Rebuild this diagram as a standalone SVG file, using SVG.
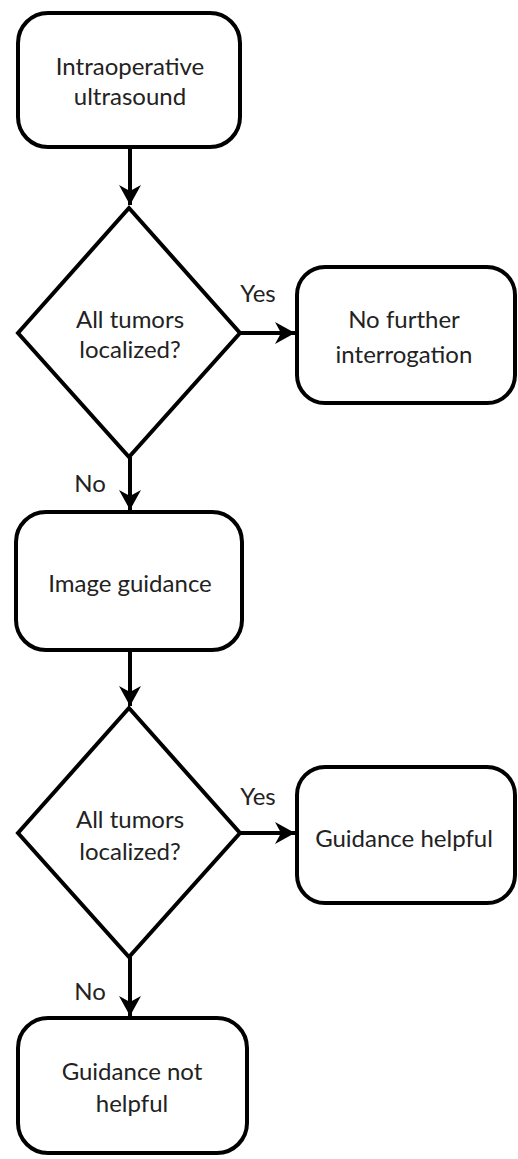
<svg xmlns="http://www.w3.org/2000/svg" width="518" height="1159" viewBox="0 0 518 1159">
<style>
.box{fill:#fff;stroke:#000;stroke-width:4}
.t{font-family:Lato,"Liberation Sans",sans-serif;font-size:24px;fill:#222;text-anchor:middle}
.lbl{font-family:Lato,"Liberation Sans",sans-serif;font-size:24px;fill:#222;text-anchor:middle}
.c{stroke:#000;stroke-width:4;fill:none}
</style>
<defs>
<marker id="ah" markerUnits="userSpaceOnUse" markerWidth="24" markerHeight="24" viewBox="-22 -12 24 24" refX="0" refY="0" orient="auto">
<path d="M0,0 L-20,-11 L-14,0 L-20,11 Z" fill="#000"/>
</marker>
</defs>
<rect width="518" height="1159" fill="#fff"/>
<g id="n1"><rect class="box" x="18" y="13" width="222" height="134" rx="30"/>
<text class="t" x="130" y="75">Intraoperative</text><text class="t" x="130" y="105">ultrasound</text></g>
<g id="d1"><polygon class="box" points="129,208 240,333 129,457 18,333"/>
<text class="t" x="130" y="328">All tumors</text><text class="t" x="130" y="358">localized?</text></g>
<g id="n2"><rect class="box" x="297" y="267" width="218" height="136" rx="28"/>
<text class="t" x="404" y="328">No further</text><text class="t" x="404" y="363">interrogation</text></g>
<g id="n3"><rect class="box" x="16" y="512" width="226" height="138" rx="30"/>
<text class="t" x="130" y="592">Image guidance</text></g>
<g id="d2"><polygon class="box" points="129,708 240,833 129,957 18,833"/>
<text class="t" x="130" y="828">All tumors</text><text class="t" x="130" y="860">localized?</text></g>
<g id="n4"><rect class="box" x="297" y="767" width="218" height="136" rx="28"/>
<text class="t" x="404" y="847">Guidance helpful</text></g>
<g id="n5"><rect class="box" x="18" y="1018" width="229" height="135" rx="30"/>
<text class="t" x="132" y="1080">Guidance not</text><text class="t" x="132" y="1112">helpful</text></g>
<g id="connectors">
<line class="c" x1="130" y1="147" x2="130" y2="205" marker-end="url(#ah)"/>
<line class="c" x1="240" y1="333" x2="295" y2="333" marker-end="url(#ah)"/>
<line class="c" x1="130" y1="457" x2="130" y2="510" marker-end="url(#ah)"/>
<line class="c" x1="130" y1="650" x2="130" y2="706" marker-end="url(#ah)"/>
<line class="c" x1="240" y1="833" x2="295" y2="833" marker-end="url(#ah)"/>
<line class="c" x1="130" y1="957" x2="130" y2="1016" marker-end="url(#ah)"/>
<text class="lbl" x="258" y="302">Yes</text>
<text class="lbl" x="90" y="492">No</text>
<text class="lbl" x="258" y="805">Yes</text>
<text class="lbl" x="90" y="1000">No</text>
</g>
</svg>
